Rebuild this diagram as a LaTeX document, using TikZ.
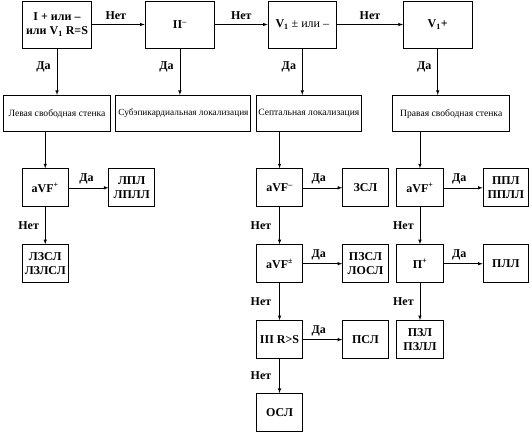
\documentclass[tikz,border=0pt]{standalone}
\usepackage{fontspec}
\setmainfont{Liberation Serif}
\usetikzlibrary{positioning}

\begin{document}
\begin{tikzpicture}
 	\tikzstyle{main}=[rectangle, draw=black, line width=0.9pt, minimum height=38pt, minimum width=45.5pt, inner sep=1pt, align=center, font=\fontsize{12}{14.5}\selectfont\bfseries]
 	\tikzstyle{test}=[main, minimum height=47pt, minimum width=68.5pt]
 	\tikzstyle{wall}=[main, minimum height=36.5pt, inner sep=0pt, font=\fontsize{9.6}{11}\selectfont]
 	\tikzstyle{connect}=[-latex, line width=0.6pt]
 	\tikzstyle{lbl}=[font=\fontsize{12}{14}\selectfont\bfseries, inner sep=2pt]
 	\useasboundingbox (0pt,0pt) rectangle (531pt,-434pt);
 	% top row
 	\node[test, minimum width=69.5pt] (q1) at (57pt,-24.5pt) {I + или –\\или V\textsubscript{1} R=S};
 	\node[test, minimum width=69.5pt] (q2) [right=52.5pt of q1] {II\textsuperscript{–}};
 	\node[test] (q3) [right=52.5pt of q2] {V\textsubscript{1} \mdseries ± или –};
 	\node[test] (q4) [right=66pt of q3] {V\textsubscript{1}+};
 	% walls
 	\node[wall, minimum width=107pt] (lsw) [below=46.5pt of q1] {Левая свободная стенка};
 	\node[wall, minimum width=135pt, font=\fontsize{9.3}{11}\selectfont] (sub) [right=4.5pt of lsw] {Субэпикардиальная локализация};
 	\node[wall, minimum width=105pt] (sep) [right=4.5pt of sub] {Септальная локализация};
 	\node[wall, minimum width=117pt] (rfw) [right=30.5pt of sep] {Правая свободная стенка};
 	% left column
 	\node[main] (avfL) [below right=36pt and 19pt of lsw.south west] {aVF\textsuperscript{+}};
 	\node[main] (lpl) [right=40pt of avfL] {ЛПЛ\\ЛПЛЛ};
 	\node[main] (lzsl) [below=37pt of avfL] {ЛЗСЛ\\ЛЗЛСЛ};
 	% septal column
 	\node[main, minimum width=46.5pt] (avfM) [below right=36pt and 0pt of sep.south west] {aVF\textsuperscript{–}};
 	\node[main] (zsl) [right=39pt of avfM] {ЗСЛ};
 	\node[main, minimum width=46.5pt] (avfPM) [below=37pt of avfM] {aVF\textsuperscript{±}};
 	\node[main] (pzsl) [right=39pt of avfPM] {ПЗСЛ\\ЛОСЛ};
 	\node[main, minimum width=46.5pt] (r3) [below=37pt of avfPM] {III R>S};
 	\node[main] (psl) [right=39pt of r3] {ПСЛ};
 	\node[main, minimum width=46.5pt] (osl) [below=34pt of r3] {ОСЛ};
 	% right column
 	\node[main, minimum width=46.5pt] (avfR) [below right=36pt and 4pt of rfw.south west] {aVF\textsuperscript{+}};
 	\node[main] (ppl) [right=39pt of avfR] {ППЛ\\ППЛЛ};
 	\node[main, minimum width=46.5pt] (pplus) [below=37pt of avfR] {П\textsuperscript{+}};
 	\node[main] (pll) [right=39pt of pplus] {ПЛЛ};
 	\node[main, minimum width=46.5pt] (pzl) [below=37pt of pplus] {ПЗЛ\\ПЗЛЛ};
 	\path (q1) edge [connect] node[lbl, above=3pt, pos=0.45] {Нет} (q2)
 	(q2) edge [connect] node[lbl, above=3pt] {Нет} (q3)
 	(q3) edge [connect] node[lbl, above=3pt] {Нет} (q4)
 	(q1.south) edge [connect] node[lbl, left=4pt, pos=0.4] {Да} (q1.south |- lsw.north)
 	(q2.south) edge [connect] node[lbl, left=4pt, pos=0.4] {Да} (q2.south |- sub.north)
 	(q3.south) edge [connect] node[lbl, left=4pt, pos=0.4] {Да} (q3.south |- sep.north)
 	(q4.south) edge [connect] node[lbl, left=4pt, pos=0.4] {Да} (q4.south |- rfw.north)
 	(lsw.south -| avfL.north) edge [connect] (avfL.north)
 	(sep.south -| avfM.north) edge [connect] (avfM.north)
 	(rfw.south -| avfR.north) edge [connect] (avfR.north)
 	(avfL) edge [connect] node[lbl, above=1pt, pos=0.45] {Да} (lpl)
 	(avfL) edge [connect] node[lbl, left=4pt] {Нет} (lzsl)
 	(avfM) edge [connect] node[lbl, above=1pt, pos=0.4] {Да} (zsl)
 	(avfM) edge [connect] node[lbl, left=6pt] {Нет} (avfPM)
 	(avfPM) edge [connect] node[lbl, above=1pt, pos=0.4] {Да} (pzsl)
 	(avfPM) edge [connect] node[lbl, left=6pt] {Нет} (r3)
 	(r3) edge [connect] node[lbl, above=1pt, pos=0.4] {Да} (psl)
 	(r3) edge [connect] node[lbl, left=6pt] {Нет} (osl)
 	(avfR) edge [connect] node[lbl, above=1pt, pos=0.4] {Да} (ppl)
 	(avfR) edge [connect] node[lbl, left=4pt] {Нет} (pplus)
 	(pplus) edge [connect] node[lbl, above=1pt, pos=0.4] {Да} (pll)
 	(pplus) edge [connect] node[lbl, left=4pt] {Нет} (pzl);
\end{tikzpicture}
\end{document}
